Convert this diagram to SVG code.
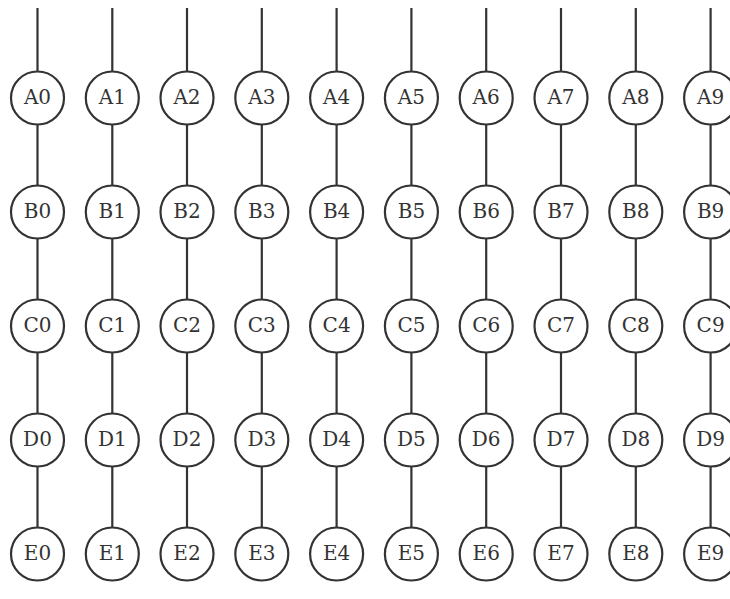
<svg xmlns="http://www.w3.org/2000/svg" width="730" height="599" viewBox="0 0 730 599">
<style>
.e{stroke:#333;stroke-width:2.2;fill:none}
.n circle{fill:#fff;stroke:#333;stroke-width:2.2}
.n text{font-family:"DejaVu Serif","Liberation Serif",serif;font-size:20px;fill:#333;text-anchor:middle}
</style>
<rect width="730" height="599" fill="#fff"/>
<g id="connectors">
<path class="e" d="M37.5 8V554M112.3 8V554M187 8V554M261.8 8V554M336.6 8V554M411.4 8V554M486.2 8V554M561 8V554M635.8 8V554M710.6 8V554"/>
</g>
<g id="nodes">
<g id="A0" class="n"><circle cx="37.5" cy="98" r="26.5"/><text x="37.5" y="104">A0</text></g>
<g id="A1" class="n"><circle cx="112.3" cy="98" r="26.5"/><text x="112.3" y="104">A1</text></g>
<g id="A2" class="n"><circle cx="187" cy="98" r="26.5"/><text x="187" y="104">A2</text></g>
<g id="A3" class="n"><circle cx="261.8" cy="98" r="26.5"/><text x="261.8" y="104">A3</text></g>
<g id="A4" class="n"><circle cx="336.6" cy="98" r="26.5"/><text x="336.6" y="104">A4</text></g>
<g id="A5" class="n"><circle cx="411.4" cy="98" r="26.5"/><text x="411.4" y="104">A5</text></g>
<g id="A6" class="n"><circle cx="486.2" cy="98" r="26.5"/><text x="486.2" y="104">A6</text></g>
<g id="A7" class="n"><circle cx="561" cy="98" r="26.5"/><text x="561" y="104">A7</text></g>
<g id="A8" class="n"><circle cx="635.8" cy="98" r="26.5"/><text x="635.8" y="104">A8</text></g>
<g id="A9" class="n"><circle cx="710.6" cy="98" r="26.5"/><text x="710.6" y="104">A9</text></g>
<g id="B0" class="n"><circle cx="37.5" cy="212" r="26.5"/><text x="37.5" y="218">B0</text></g>
<g id="B1" class="n"><circle cx="112.3" cy="212" r="26.5"/><text x="112.3" y="218">B1</text></g>
<g id="B2" class="n"><circle cx="187" cy="212" r="26.5"/><text x="187" y="218">B2</text></g>
<g id="B3" class="n"><circle cx="261.8" cy="212" r="26.5"/><text x="261.8" y="218">B3</text></g>
<g id="B4" class="n"><circle cx="336.6" cy="212" r="26.5"/><text x="336.6" y="218">B4</text></g>
<g id="B5" class="n"><circle cx="411.4" cy="212" r="26.5"/><text x="411.4" y="218">B5</text></g>
<g id="B6" class="n"><circle cx="486.2" cy="212" r="26.5"/><text x="486.2" y="218">B6</text></g>
<g id="B7" class="n"><circle cx="561" cy="212" r="26.5"/><text x="561" y="218">B7</text></g>
<g id="B8" class="n"><circle cx="635.8" cy="212" r="26.5"/><text x="635.8" y="218">B8</text></g>
<g id="B9" class="n"><circle cx="710.6" cy="212" r="26.5"/><text x="710.6" y="218">B9</text></g>
<g id="C0" class="n"><circle cx="37.5" cy="326" r="26.5"/><text x="37.5" y="332">C0</text></g>
<g id="C1" class="n"><circle cx="112.3" cy="326" r="26.5"/><text x="112.3" y="332">C1</text></g>
<g id="C2" class="n"><circle cx="187" cy="326" r="26.5"/><text x="187" y="332">C2</text></g>
<g id="C3" class="n"><circle cx="261.8" cy="326" r="26.5"/><text x="261.8" y="332">C3</text></g>
<g id="C4" class="n"><circle cx="336.6" cy="326" r="26.5"/><text x="336.6" y="332">C4</text></g>
<g id="C5" class="n"><circle cx="411.4" cy="326" r="26.5"/><text x="411.4" y="332">C5</text></g>
<g id="C6" class="n"><circle cx="486.2" cy="326" r="26.5"/><text x="486.2" y="332">C6</text></g>
<g id="C7" class="n"><circle cx="561" cy="326" r="26.5"/><text x="561" y="332">C7</text></g>
<g id="C8" class="n"><circle cx="635.8" cy="326" r="26.5"/><text x="635.8" y="332">C8</text></g>
<g id="C9" class="n"><circle cx="710.6" cy="326" r="26.5"/><text x="710.6" y="332">C9</text></g>
<g id="D0" class="n"><circle cx="37.5" cy="440" r="26.5"/><text x="37.5" y="446">D0</text></g>
<g id="D1" class="n"><circle cx="112.3" cy="440" r="26.5"/><text x="112.3" y="446">D1</text></g>
<g id="D2" class="n"><circle cx="187" cy="440" r="26.5"/><text x="187" y="446">D2</text></g>
<g id="D3" class="n"><circle cx="261.8" cy="440" r="26.5"/><text x="261.8" y="446">D3</text></g>
<g id="D4" class="n"><circle cx="336.6" cy="440" r="26.5"/><text x="336.6" y="446">D4</text></g>
<g id="D5" class="n"><circle cx="411.4" cy="440" r="26.5"/><text x="411.4" y="446">D5</text></g>
<g id="D6" class="n"><circle cx="486.2" cy="440" r="26.5"/><text x="486.2" y="446">D6</text></g>
<g id="D7" class="n"><circle cx="561" cy="440" r="26.5"/><text x="561" y="446">D7</text></g>
<g id="D8" class="n"><circle cx="635.8" cy="440" r="26.5"/><text x="635.8" y="446">D8</text></g>
<g id="D9" class="n"><circle cx="710.6" cy="440" r="26.5"/><text x="710.6" y="446">D9</text></g>
<g id="E0" class="n"><circle cx="37.5" cy="554" r="26.5"/><text x="37.5" y="560">E0</text></g>
<g id="E1" class="n"><circle cx="112.3" cy="554" r="26.5"/><text x="112.3" y="560">E1</text></g>
<g id="E2" class="n"><circle cx="187" cy="554" r="26.5"/><text x="187" y="560">E2</text></g>
<g id="E3" class="n"><circle cx="261.8" cy="554" r="26.5"/><text x="261.8" y="560">E3</text></g>
<g id="E4" class="n"><circle cx="336.6" cy="554" r="26.5"/><text x="336.6" y="560">E4</text></g>
<g id="E5" class="n"><circle cx="411.4" cy="554" r="26.5"/><text x="411.4" y="560">E5</text></g>
<g id="E6" class="n"><circle cx="486.2" cy="554" r="26.5"/><text x="486.2" y="560">E6</text></g>
<g id="E7" class="n"><circle cx="561" cy="554" r="26.5"/><text x="561" y="560">E7</text></g>
<g id="E8" class="n"><circle cx="635.8" cy="554" r="26.5"/><text x="635.8" y="560">E8</text></g>
<g id="E9" class="n"><circle cx="710.6" cy="554" r="26.5"/><text x="710.6" y="560">E9</text></g>
</g>
</svg>
